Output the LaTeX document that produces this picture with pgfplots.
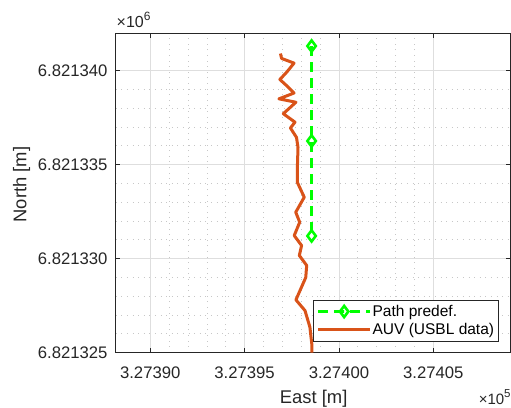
\documentclass[border=0pt]{standalone}
\usepackage{pgfplots}
\pgfplotsset{compat=1.18}
\usepackage{pgfplotstable}
\usepackage{fontspec}
\setmainfont{Liberation Sans}
\definecolor{auvorange}{rgb}{0.85,0.325,0.098}
\definecolor{axgray}{rgb}{0.15,0.15,0.15}

% Coordinates are stored as offsets: East = 327400 + E, North = 6821325 + N  [m]
\pgfplotstableread{
E N
-1.45 16.30
-1.45 11.25
-1.45 6.20
}\pathdata
\pgfplotstableread{
E N
-3.10 15.90
-3.04 15.64
-2.38 15.39
-2.76 14.92
-3.13 14.52
-2.76 14.18
-2.38 13.80
-3.18 13.49
-2.28 13.31
-2.95 12.70
-2.33 12.25
-2.57 11.94
-2.25 11.44
-2.17 10.90
-2.20 9.95
-2.20 9.04
-1.84 8.26
-2.29 7.46
-2.08 6.93
-2.37 6.22
-1.98 5.69
-2.10 5.16
-1.71 4.63
-1.76 3.99
-2.28 2.80
-1.80 2.23
-1.54 1.35
-1.43 0.37
-1.43 0.00
}\auvdata

\begin{document}
\begin{tikzpicture}[x=1pt,y=1pt]
\useasboundingbox (0,0) rectangle (511,407);
\begin{axis}[
  at={(115.7pt,54.5pt)}, anchor=south west,
  scale only axis, width=394.8pt, height=318.7pt,
  xmin=-11.83, xmax=9.09, ymin=0, ymax=16.95,
  xtick={-10,-5,0,5},
  xticklabels={3.27390,3.27395,3.27400,3.27405},
  ytick={0,5,10,15},
  yticklabels={6.821325,6.821330,6.821335,6.821340},
  minor tick num=4,
  minor tick length=0pt,
  major tick length=4.5pt,
  tick align=inside,
  tick style={axgray, line width=0.8pt},
  axis line style={axgray, line width=0.8pt},
  grid=both,
  major grid style={solid, color=black!13, line width=0.8pt},
  minor grid style={color=black!22, line width=0.7pt, dash pattern=on 0.7pt off 4.9pt},
  ticklabel style={font=\fontsize{16.7}{20}\selectfont, text=axgray},
  xticklabel style={inner sep=0pt, anchor=north, yshift=-14pt},
  yticklabel style={inner sep=0pt, anchor=east, xshift=-8pt},
  xlabel={East [m]},
  ylabel={North [m]},
  label style={font=\fontsize{18.4}{22}\selectfont, text=axgray},
  xlabel style={at={(axis description cs:0.5015,-0.159)}, anchor=base, inner sep=0pt},
  ylabel style={at={(axis description cs:-0.238,0.527)}, anchor=center, inner sep=0pt, rotate=0},
  legend style={
    at={(1,0)}, anchor=south east, xshift=-11.5pt, yshift=11pt,
    font=\fontsize{15.5}{18}\selectfont, text=black,
    draw=axgray, line width=0.8pt,
    inner xsep=3.5pt, inner ysep=4pt, row sep=3.5pt,
    nodes={inner sep=1pt},
    /tikz/every even column/.append style={column sep=2pt},
  },
  legend cell align=left,
  legend image code/.code={
    \draw[mark repeat=2,mark phase=2,#1] plot coordinates {(0pt,0pt) (26pt,0pt) (52pt,0pt)};
  },
]
\addplot[color=green, line width=2.6pt, dash pattern=on 10pt off 6pt,
  mark=diamond, mark size=5.6pt, mark options={solid, fill=none}]
  table[x=E, y=N] {\pathdata};
\addlegendentry{Path predef.}
\addplot[color=auvorange, line width=3pt, line join=round]
  table[x=E, y=N] {\auvdata};
\addlegendentry{AUV (USBL data)}
\end{axis}
\node[anchor=base west, inner sep=0pt, text=axgray, font=\fontsize{16}{18}\selectfont]
  at (116.5,379.7) {×10\raisebox{7pt}{\fontsize{12}{13}\selectfont 6}};
\node[anchor=base east, inner sep=0pt, text=axgray, font=\fontsize{15}{17}\selectfont]
  at (510.8,2.5) {×10\raisebox{7pt}{\fontsize{11.5}{12}\selectfont 5}};
\end{tikzpicture}
\end{document}
